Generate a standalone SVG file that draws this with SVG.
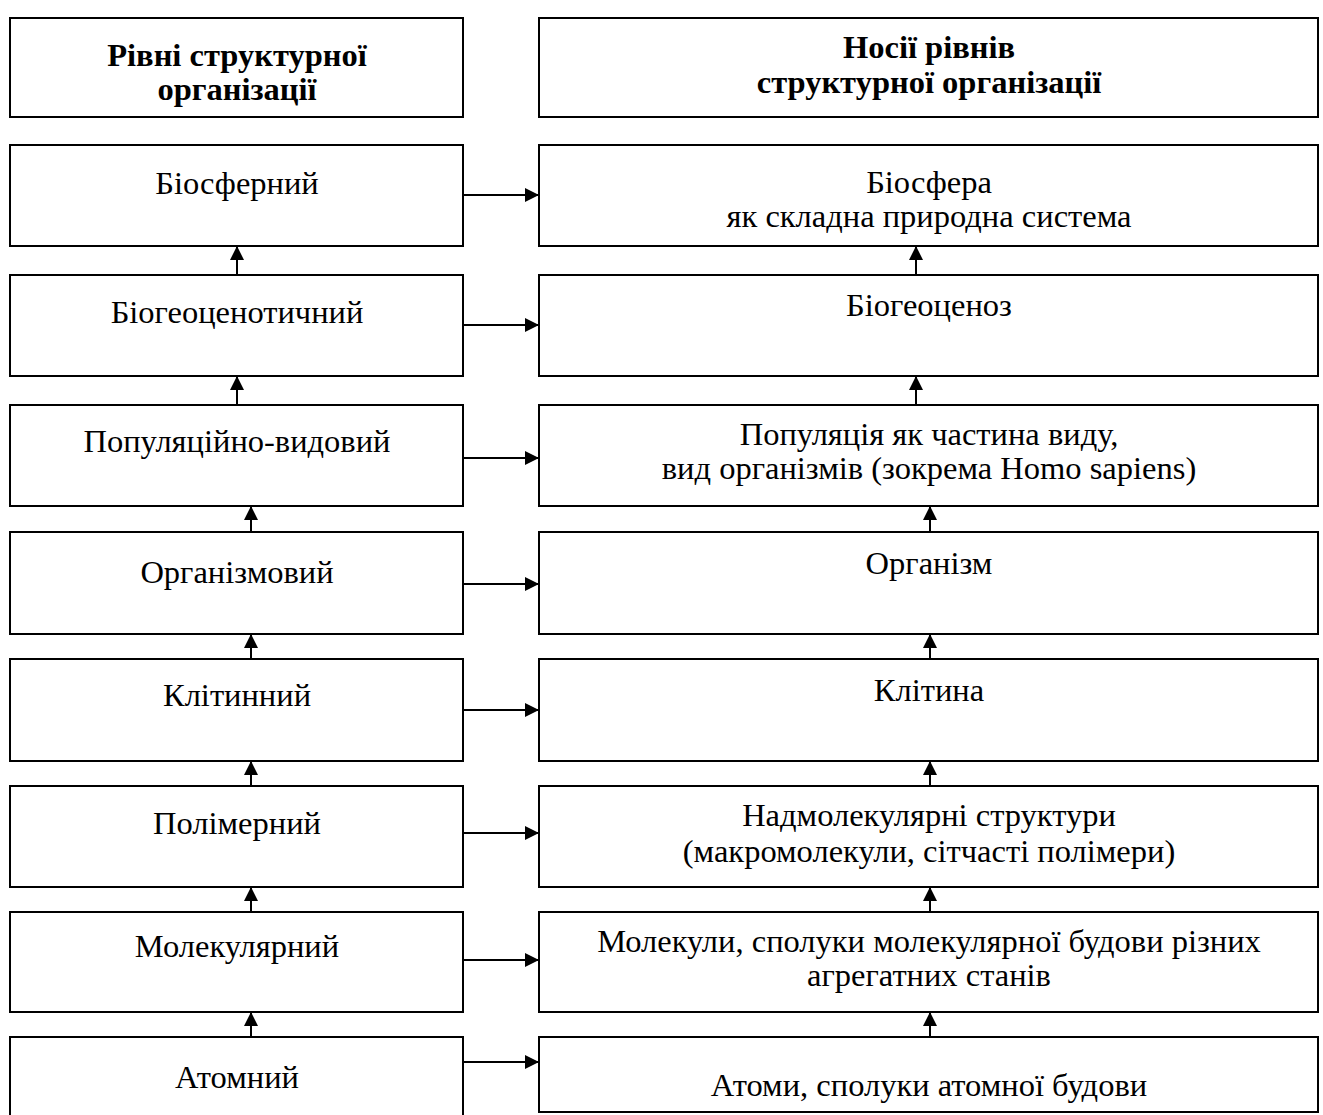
<svg xmlns="http://www.w3.org/2000/svg" width="1323" height="1115" viewBox="0 0 1323 1115">
<style>
.box{fill:#fff;stroke:#000;stroke-width:2}
.t{font-family:"Liberation Serif","Times New Roman",serif;font-size:32.5px;fill:#000;text-anchor:middle}
.b{font-weight:bold}
.c{stroke:#000;stroke-width:2;fill:none;marker-end:url(#ah)}
</style>
<defs>
<marker id="ah" markerUnits="userSpaceOnUse" markerWidth="14" markerHeight="14" refX="14" refY="7" orient="auto">
<path d="M0,0 L14,7 L0,14 z" fill="#000"/>
</marker>
</defs>
<rect width="1323" height="1115" fill="#fff"/>
<g id="h-left"><rect class="box" x="10" y="18" width="453" height="99"/>
<text class="t b" x="237" y="66">Рівні структурної</text><text class="t b" x="237" y="100">організації</text></g>
<g id="h-right"><rect class="box" x="539" y="18" width="779" height="99"/>
<text class="t b" x="929" y="58">Носії рівнів</text><text class="t b" x="929" y="93">структурної організації</text></g>

<g id="l1"><rect class="box" x="10" y="145" width="453" height="101"/><text class="t" x="237" y="194">Біосферний</text></g>
<g id="l2"><rect class="box" x="10" y="275" width="453" height="101"/><text class="t" x="237" y="323">Біогеоценотичний</text></g>
<g id="l3"><rect class="box" x="10" y="405" width="453" height="101"/><text class="t" x="237" y="452">Популяційно-видовий</text></g>
<g id="l4"><rect class="box" x="10" y="532" width="453" height="102"/><text class="t" x="237" y="583">Організмовий</text></g>
<g id="l5"><rect class="box" x="10" y="659" width="453" height="102"/><text class="t" x="237" y="706">Клітинний</text></g>
<g id="l6"><rect class="box" x="10" y="786" width="453" height="101"/><text class="t" x="237" y="834">Полімерний</text></g>
<g id="l7"><rect class="box" x="10" y="912" width="453" height="100"/><text class="t" x="237" y="957">Молекулярний</text></g>
<g id="l8"><rect class="box" x="10" y="1037" width="453" height="90"/><text class="t" x="237" y="1088">Атомний</text></g>

<g id="r1"><rect class="box" x="539" y="145" width="779" height="101"/><text class="t" x="929" y="193">Біосфера</text><text class="t" x="929" y="227">як складна природна система</text></g>
<g id="r2"><rect class="box" x="539" y="275" width="779" height="101"/><text class="t" x="929" y="316">Біогеоценоз</text></g>
<g id="r3"><rect class="box" x="539" y="405" width="779" height="101"/><text class="t" x="929" y="445">Популяція як частина виду,</text><text class="t" x="929" y="479">вид організмів (зокрема Homo sapiens)</text></g>
<g id="r4"><rect class="box" x="539" y="532" width="779" height="102"/><text class="t" x="929" y="574">Організм</text></g>
<g id="r5"><rect class="box" x="539" y="659" width="779" height="102"/><text class="t" x="929" y="701">Клітина</text></g>
<g id="r6"><rect class="box" x="539" y="786" width="779" height="101"/><text class="t" x="929" y="826">Надмолекулярні структури</text><text class="t" x="929" y="862">(макромолекули, сітчасті полімери)</text></g>
<g id="r7"><rect class="box" x="539" y="912" width="779" height="100"/><text class="t" x="929" y="952">Молекули, сполуки молекулярної будови різних</text><text class="t" x="929" y="986">агрегатних станів</text></g>
<g id="r8"><rect class="box" x="539" y="1037" width="779" height="75"/><text class="t" x="929" y="1096">Атоми, сполуки атомної будови</text></g>

<g id="connectors">
<line class="c" x1="463" y1="195" x2="539" y2="195"/>
<line class="c" x1="463" y1="325" x2="539" y2="325"/>
<line class="c" x1="463" y1="458" x2="539" y2="458"/>
<line class="c" x1="463" y1="584" x2="539" y2="584"/>
<line class="c" x1="463" y1="710" x2="539" y2="710"/>
<line class="c" x1="463" y1="833" x2="539" y2="833"/>
<line class="c" x1="463" y1="960" x2="539" y2="960"/>
<line class="c" x1="463" y1="1062" x2="539" y2="1062"/>

<line class="c" x1="237" y1="275" x2="237" y2="246"/>
<line class="c" x1="237" y1="405" x2="237" y2="376"/>
<line class="c" x1="251" y1="532" x2="251" y2="506"/>
<line class="c" x1="251" y1="659" x2="251" y2="634"/>
<line class="c" x1="251" y1="786" x2="251" y2="761"/>
<line class="c" x1="251" y1="912" x2="251" y2="887"/>
<line class="c" x1="251" y1="1037" x2="251" y2="1012"/>

<line class="c" x1="916" y1="275" x2="916" y2="246"/>
<line class="c" x1="916" y1="405" x2="916" y2="376"/>
<line class="c" x1="930" y1="532" x2="930" y2="506"/>
<line class="c" x1="930" y1="659" x2="930" y2="634"/>
<line class="c" x1="930" y1="786" x2="930" y2="761"/>
<line class="c" x1="930" y1="912" x2="930" y2="887"/>
<line class="c" x1="930" y1="1037" x2="930" y2="1012"/>
</g>
</svg>
